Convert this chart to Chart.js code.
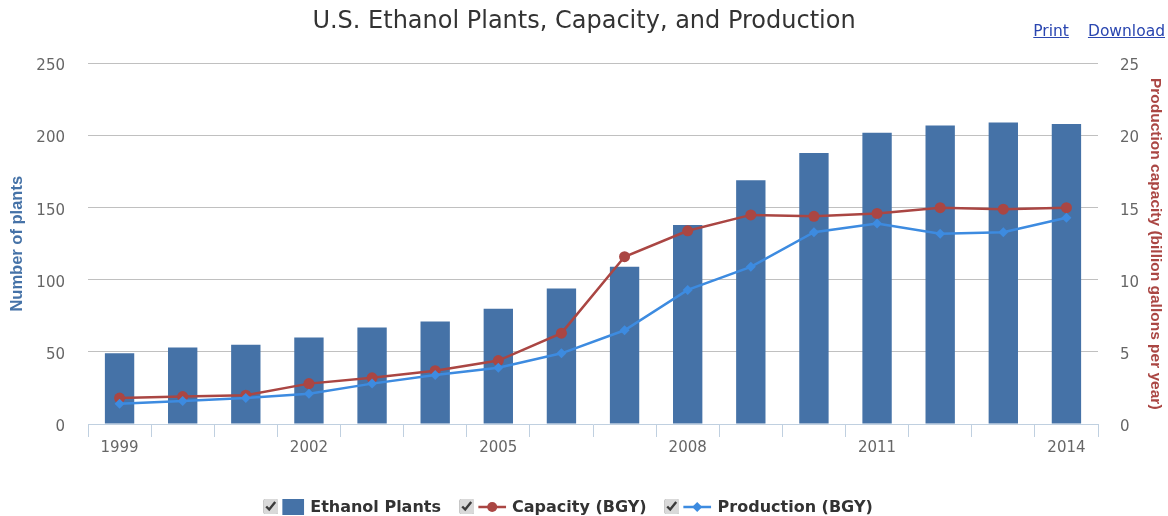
<!DOCTYPE html>
<html>
<head>
<meta charset="utf-8">
<script src="https://cdn.jsdelivr.net/npm/chart.js@4.4.1/dist/chart.umd.min.js"></script>
<style>
  html, body { margin: 0; padding: 0; background: #fff; }
  #wrap { position: relative; width: 1168px; height: 516px; overflow: hidden; }
  #c { position: absolute; left: 0; top: 0; }
  #links { position: absolute; top: 22px; right: 3px; font: 15.5px "DejaVu Sans", sans-serif; }
  #links a { color: #2a46b0; text-decoration: underline; margin-left: 19px; }
  #legend { position: absolute; top: 497px; left: 568px; transform: translateX(-50%);
    display: flex; align-items: center; white-space: nowrap;
    font: bold 16px "DejaVu Sans", sans-serif; color: #333; }
  #legend .item { display: flex; align-items: center; margin: 0 9px; }
  #legend input { margin: 0 4px 0 0; width: 15px; height: 15px; accent-color: #d9d9d9; }
  #legend svg { margin-right: 6px; }
</style>
</head>
<body>
<div id="wrap">
  <canvas id="c" width="1168" height="516"></canvas>
  <div id="links"><a href="#">Print</a><a href="#">Download</a></div>
  <div id="legend"></div>
</div>
<script>
// ---- data ----
const chartTitle = 'U.S. Ethanol Plants, Capacity, and Production';
const years = ['1999','2000','2001','2002','2003','2004','2005','2006','2007','2008','2009','2010','2011','2012','2013','2014'];
const ethanolPlants = [49, 53, 55, 60, 67, 71, 80, 94, 109, 138, 169, 188, 202, 207, 209, 208];
const capacityBGY   = [1.8, 1.9, 2.0, 2.8, 3.2, 3.7, 4.4, 6.3, 11.6, 13.4, 14.5, 14.4, 14.6, 15.0, 14.9, 15.0];
const productionBGY = [1.4, 1.6, 1.8, 2.1, 2.8, 3.4, 3.9, 4.9, 6.5, 9.3, 10.9, 13.3, 13.9, 13.2, 13.3, 14.3];
const leftTicks = [0, 50, 100, 150, 200, 250];
const rightTicks = [0, 5, 10, 15, 20, 25];
const seriesNames = ['Ethanol Plants', 'Capacity (BGY)', 'Production (BGY)'];
const leftTitle = 'Number of plants';
const rightTitle = 'Production capacity (billion gallons per year)';

const BLUE_BAR = '#4572A7';
const RED = '#AA4643';
const BLUE_LINE = '#3D8BE0';

Chart.defaults.font.family = '"DejaVu Sans", sans-serif';
Chart.defaults.color = '#666';

new Chart(document.getElementById('c'), {
  type: 'bar',
  data: {
    labels: years,
    datasets: [
      { type: 'bar', label: seriesNames[0], data: ethanolPlants, yAxisID: 'y',
        backgroundColor: BLUE_BAR, borderColor: '#ffffff', borderWidth: 0,
        barPercentage: 0.465, categoryPercentage: 1, order: 3 },
      { type: 'line', label: seriesNames[1], data: capacityBGY, yAxisID: 'y1',
        borderColor: RED, backgroundColor: RED, borderWidth: 2.5, tension: 0,
        pointStyle: 'circle', pointRadius: 5.5, pointBackgroundColor: RED, pointBorderWidth: 0, order: 2 },
      { type: 'line', label: seriesNames[2], data: productionBGY, yAxisID: 'y1',
        borderColor: BLUE_LINE, backgroundColor: BLUE_LINE, borderWidth: 2.5, tension: 0,
        pointStyle: 'rectRot', pointRadius: 5, pointBackgroundColor: BLUE_LINE, pointBorderWidth: 0, order: 1 }
    ]
  },
  options: {
    responsive: false,
    animation: false,
    devicePixelRatio: 1,
    layout: { padding: 0 },
    plugins: {
      legend: { display: false },
      tooltip: { enabled: false },
      title: {
        display: true, text: chartTitle, color: '#333',
        font: { size: 24, weight: 'normal', family: '"DejaVu Sans", sans-serif' },
        padding: { top: 7.6, bottom: 27.1 }
      }
    },
    scales: {
      x: {
        type: 'category',
        offset: true,
        afterFit: (s) => { s.height = 92; },
        grid: { offset: true, drawOnChartArea: false, drawTicks: true, tickLength: 13, color: '#C0D0E0', lineWidth: 1 },
        border: { display: true, color: '#C0D0E0', width: 1 },
        ticks: {
          autoSkip: false, maxRotation: 0, padding: 2, color: '#666',
          font: { size: 15 },
          callback: function (v, i) { return i % 3 === 0 ? years[i] : ''; }
        }
      },
      y: {
        position: 'left',
        min: 0, max: 250,
        afterFit: (s) => { s.width = 88; },
        afterBuildTicks: (s) => { s.ticks = leftTicks.map(v => ({ value: v })); },
        grid: { drawTicks: false, color: (ctx) => ctx.tick && ctx.tick.value === 0 ? 'rgba(0,0,0,0)' : '#C0C0C0', lineWidth: 1 },
        border: { display: false },
        ticks: { padding: 23, labelOffset: 3, color: '#666', font: { size: 15 } },
        title: { display: true, text: leftTitle, color: BLUE_BAR,
          font: { size: 16.5, weight: 'bold', family: '"Liberation Sans", Arial, sans-serif' },
          padding: { top: 8, bottom: 0 } }
      },
      y1: {
        position: 'right',
        min: 0, max: 25,
        afterFit: (s) => { s.width = 70; },
        afterBuildTicks: (s) => { s.ticks = rightTicks.map(v => ({ value: v })); },
        grid: { display: false, drawTicks: false, drawOnChartArea: false },
        border: { display: false },
        ticks: { padding: 22, labelOffset: 3, color: '#666', font: { size: 15 } },
        title: { display: true, text: rightTitle, color: RED,
          font: { size: 15.5, weight: 'bold', family: '"Liberation Sans", Arial, sans-serif' },
          padding: { top: 3.7, bottom: 0 } }
      }
    }
  }
});

// ---- HTML legend with checkboxes ----
const symbols = [
  '<svg width="22" height="16"><rect x="0" y="0" width="22" height="16" fill="' + BLUE_BAR + '"/></svg>',
  '<svg width="28" height="16"><line x1="0" y1="8" x2="28" y2="8" stroke="' + RED + '" stroke-width="2.5"/><circle cx="14" cy="8" r="5" fill="' + RED + '"/></svg>',
  '<svg width="28" height="16"><line x1="0" y1="8" x2="28" y2="8" stroke="' + BLUE_LINE + '" stroke-width="2.5"/><polygon points="14,3 19,8 14,13 9,8" fill="' + BLUE_LINE + '"/></svg>'
];
const legend = document.getElementById('legend');
seriesNames.forEach((name, i) => {
  const item = document.createElement('span');
  item.className = 'item';
  item.innerHTML = '<input type="checkbox" checked>' + symbols[i] + '<span>' + name + '</span>';
  legend.appendChild(item);
});
</script>
</body>
</html>
